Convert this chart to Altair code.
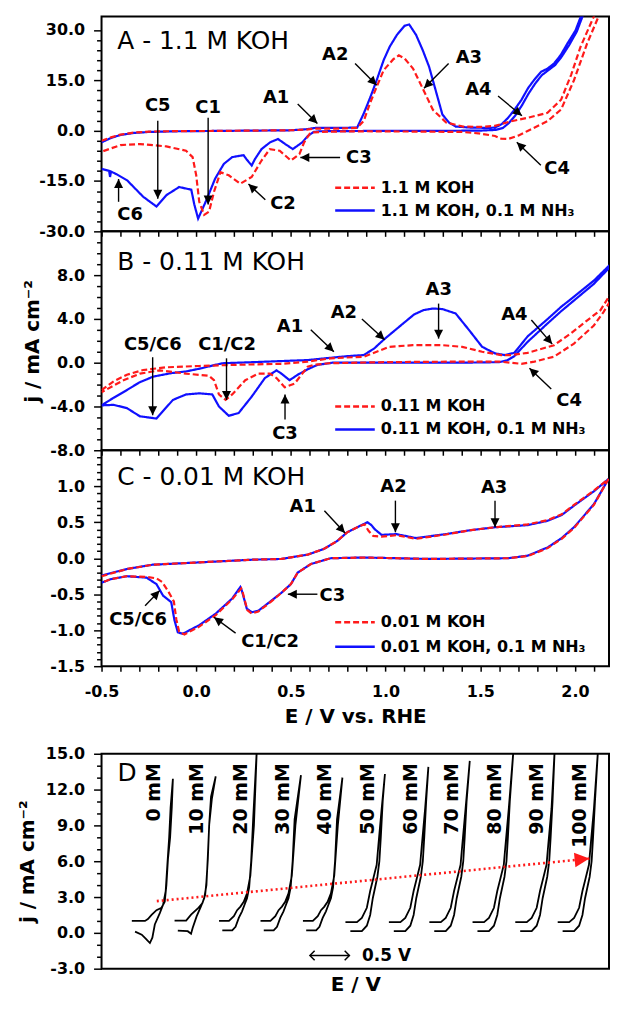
import math
import pandas as pd
import altair as alt

RED = "#ff1a1a"
BLUE = "#1010ff"
FONT = "DejaVu Sans"
MINUS = "\u2212"

E_MIN, E_MAX = -0.5, 2.18
W = 510
H_A, H_B, H_C, H_D = 216, 220, 217, 216
DOM_A = [-30, 34]
DOM_B = [-8, 12]
DOM_C = [-1.5, 1.5]
DOM_DX = [0, 6.4]
DOM_DY = [-3, 15]

# ---------------- Panel A : 1.1 M KOH ----------------
A_NAMES = ["1.1 M KOH", "1.1 M KOH, 0.1 M NH\u2083"]
A_KOH_E_fwd = [-0.50, -0.45, -0.40, -0.33, -0.25, -0.10, 0.10, 0.30, 0.50, 0.58, 0.63, 0.75, 0.85, 0.885, 0.918,
               0.953, 0.99, 1.04, 1.07, 1.10, 1.145, 1.20, 1.25, 1.32, 1.41, 1.50, 1.578, 1.65, 1.75, 1.855,
               1.927, 1.98, 2.03, 2.10, 2.14]
A_KOH_j_fwd = [-3.0, -2.0, -1.2, -0.6, -0.3, -0.15, -0.1, 0.0, 0.1, 0.3, 0.6, 0.6, 0.8, 2.9, 8.2,
               13.0, 18.0, 21.2, 22.4, 21.5, 18.5, 12.1, 6.2, 2.4, 1.2, 1.1, 1.4, 2.6, 3.8, 5.3,
               9.2, 16.6, 25.0, 34.0, 39.0]
A_KOH_E_rev = [2.16, 2.125, 2.064, 1.995, 1.927, 1.855, 1.75, 1.70, 1.647, 1.61, 1.578, 1.49, 1.40, 1.20, 0.90,
               0.70, 0.62, 0.60, 0.57, 0.545, 0.50, 0.441, 0.389, 0.345, 0.293, 0.233, 0.172, 0.128, 0.094, 0.068,
               0.042, 0.016, 0.0, -0.019, -0.054, -0.158, -0.297, -0.40, -0.50]
A_KOH_j_rev = [39.0, 34.0, 25.9, 15.0, 6.3, 2.8, -0.1, -1.5, -2.5, -2.4, -1.6, -0.8, -0.4, -0.3, -0.2,
               -0.3, -0.5, -0.9, -3.5, -7.0, -8.9, -6.0, -5.5, -8.9, -13.8, -15.8, -13.3, -12.4, -18.2, -24.1,
               -25.1, -21.2, -13.3, -7.9, -6.0, -4.7, -4.0, -4.3, -6.3]
A_NH3_E_fwd = [-0.50, -0.45, -0.40, -0.33, -0.25, -0.10, 0.10, 0.30, 0.50, 0.58, 0.63, 0.75, 0.85, 0.884, 0.92,
               0.953, 0.99, 1.022, 1.06, 1.10, 1.125, 1.161, 1.196, 1.23, 1.266, 1.30, 1.335, 1.37, 1.45, 1.55,
               1.578, 1.613, 1.647, 1.682, 1.717, 1.752, 1.786, 1.821, 1.856, 1.89, 1.925, 1.96, 2.003, 2.03, 2.06]
A_NH3_j_fwd = [-3.5, -2.2, -1.3, -0.7, -0.4, -0.2, -0.1, 0.0, 0.1, 0.4, 0.8, 0.8, 0.9, 5.0, 10.0,
               15.0, 21.0, 25.0, 28.5, 31.2, 31.6, 28.5, 24.0, 19.0, 11.7, 4.8, 2.4, 1.2, 0.9, 0.8,
               0.9, 1.9, 3.8, 6.3, 9.1, 12.6, 15.2, 17.5, 18.5, 20.0, 22.5, 25.9, 29.8, 33.8, 38.0]
A_NH3_E_rev = [2.07, 2.04, 2.01, 1.97, 1.93, 1.895, 1.86, 1.825, 1.79, 1.755, 1.72, 1.685, 1.65, 1.62, 1.58,
               1.50, 1.20, 0.90, 0.65, 0.62, 0.589, 0.56, 0.51, 0.47, 0.432, 0.39, 0.345, 0.31, 0.293, 0.265,
               0.25, 0.19, 0.146, 0.10, 0.05, 0.01, -0.01, -0.026, -0.09, -0.157, -0.21, -0.28, -0.365, -0.42,
               -0.45, -0.455, -0.46, -0.50]
A_NH3_j_rev = [38.0, 34.0, 29.5, 25.5, 22.0, 19.5, 18.0, 16.5, 14.0, 11.0, 7.5, 4.5, 2.2, 0.8, 0.2,
               0.0, -0.1, -0.1, -0.2, -0.4, -1.6, -3.5, -5.5, -4.0, -2.5, -3.5, -5.5, -8.5, -10.4, -8.5,
               -7.3, -7.9, -9.9, -14.3, -21.2, -26.2, -22.0, -17.6, -16.8, -19.2, -22.6, -19.7, -14.8, -13.0,
               -12.2, -13.8, -12.0, -11.4]

# ---------------- Panel B : 0.11 M KOH ----------------
B_NAMES = ["0.11 M KOH", "0.11 M KOH, 0.1 M NH\u2083"]
B_KOH_E_fwd = [-0.50, -0.436, -0.366, -0.28, -0.158, 0.016, 0.19, 0.45, 0.589, 0.71, 0.885, 0.953, 1.02, 1.144,
               1.30, 1.405, 1.51, 1.61, 1.665, 1.75, 1.89, 1.98, 2.06, 2.135, 2.20]
B_KOH_j_fwd = [-2.5, -1.7, -1.1, -0.67, -0.42, -0.3, -0.2, -0.1, 0.1, 0.4, 0.55, 1.0, 1.45, 1.6,
               1.6, 1.45, 1.0, 0.7, 0.7, 0.9, 1.6, 2.7, 3.8, 4.8, 6.6]
B_KOH_E_rev = [2.20, 2.15, 2.10, 1.995, 1.89, 1.786, 1.717, 1.66, 1.60, 1.40, 1.00, 0.70, 0.62, 0.589, 0.52,
               0.467, 0.424, 0.389, 0.328, 0.259, 0.19, 0.155, 0.12, 0.094, 0.068, -0.054, -0.193, -0.297,
               -0.384, -0.50]
B_KOH_j_rev = [6.0, 4.6, 3.4, 1.75, 0.55, 0.1, -0.1, 0.0, 0.1, 0.1, 0.05, -0.05, -0.2, -0.36, -1.9,
               -2.25, -1.4, -1.0, -1.0, -1.6, -2.9, -3.4, -2.9, -1.6, -1.2, -1.0, -0.7, -1.0, -1.6, -2.7]
B_NH3_E_fwd = [-0.50, -0.436, -0.366, -0.30, -0.227, -0.13, -0.054, 0.03, 0.10, 0.14, 0.30, 0.45, 0.589, 0.71,
               0.80, 0.885, 0.94, 0.99, 1.094, 1.15, 1.20, 1.25, 1.30, 1.37, 1.44, 1.51, 1.578, 1.63, 1.68,
               1.75, 1.85, 1.927, 2.00, 2.10, 2.20]
B_NH3_j_fwd = [-3.9, -3.2, -2.5, -1.8, -1.27, -0.95, -0.8, -0.5, -0.2, -0.05, 0.05, 0.15, 0.24, 0.45,
               0.6, 0.7, 1.3, 2.1, 3.6, 4.4, 4.8, 4.95, 4.9, 4.5, 3.0, 1.45, 0.85, 0.7, 0.9,
               2.4, 3.9, 5.1, 6.1, 7.5, 9.2]
B_NH3_E_rev = [2.20, 2.10, 1.927, 1.85, 1.75, 1.68, 1.64, 1.60, 1.40, 1.00, 0.72, 0.64, 0.589, 0.536, 0.493,
               0.45, 0.424, 0.363, 0.293, 0.224, 0.172, 0.12, 0.085, 0.016, -0.054, -0.123, -0.21, -0.297,
               -0.366, -0.436, -0.50]
B_NH3_j_rev = [9.0, 7.2, 4.7, 3.5, 1.9, 0.6, 0.2, 0.05, 0.0, 0.0, 0.0, -0.2, -0.6, -1.1, -1.6,
               -1.0, -0.7, -1.4, -3.1, -4.6, -4.85, -4.0, -2.9, -2.8, -2.9, -3.4, -5.1, -4.9,
               -4.15, -3.85, -3.9]

# ---------------- Panel C : 0.01 M KOH ----------------
C_NAMES = ["0.01 M KOH", "0.01 M KOH, 0.1 M NH\u2083"]
C_KOH_E_fwd = [-0.50, -0.366, -0.23, 0.0, 0.30, 0.45, 0.589, 0.675, 0.745, 0.797, 0.866, 0.89, 0.91, 0.935,
               0.979, 1.057, 1.161, 1.318, 1.45, 1.578, 1.75, 1.856, 1.93, 1.995, 2.10, 2.177]
C_KOH_j_fwd = [-0.25, -0.15, -0.09, -0.06, -0.02, -0.01, 0.05, 0.13, 0.24, 0.36, 0.45, 0.47, 0.38, 0.31,
               0.30, 0.32, 0.27, 0.33, 0.39, 0.43, 0.47, 0.53, 0.61, 0.74, 0.94, 1.1]
C_KOH_E_rev = [2.177, 2.10, 1.995, 1.93, 1.856, 1.75, 1.646, 1.23, 0.884, 0.71, 0.606, 0.536, 0.50, 0.45,
               0.397, 0.328, 0.293, 0.27, 0.245, 0.238, 0.19, 0.103, 0.016, -0.0625, -0.09, -0.105, -0.118,
               -0.15, -0.18, -0.21, -0.26, -0.366, -0.45, -0.50]
C_KOH_j_rev = [1.1, 0.74, 0.42, 0.27, 0.14, 0.03, 0.0, -0.01, 0.01, 0.0, -0.08, -0.2, -0.36, -0.48,
               -0.6, -0.74, -0.77, -0.72, -0.47, -0.42, -0.57, -0.79, -0.95, -1.06, -1.02, -0.85, -0.6,
               -0.45, -0.33, -0.28, -0.26, -0.25, -0.29, -0.34]
C_NH3_E_fwd = [-0.50, -0.366, -0.23, 0.0, 0.30, 0.45, 0.589, 0.675, 0.745, 0.797, 0.866, 0.904, 0.925, 0.944,
               0.979, 1.057, 1.161, 1.318, 1.45, 1.578, 1.75, 1.856, 1.93, 1.995, 2.10, 2.177]
C_NH3_j_fwd = [-0.24, -0.15, -0.09, -0.06, -0.02, -0.01, 0.05, 0.13, 0.24, 0.36, 0.45, 0.50, 0.46, 0.40,
               0.325, 0.335, 0.28, 0.335, 0.39, 0.43, 0.46, 0.52, 0.6, 0.73, 0.93, 1.1]
C_NH3_E_rev = [2.177, 2.10, 1.995, 1.93, 1.856, 1.75, 1.646, 1.23, 0.884, 0.71, 0.606, 0.536, 0.50, 0.45,
               0.397, 0.328, 0.293, 0.267, 0.241, 0.233, 0.19, 0.103, 0.016, -0.071, -0.097, -0.115, -0.132,
               -0.175, -0.21, -0.262, -0.366, -0.45, -0.50]
C_NH3_j_rev = [1.1, 0.75, 0.43, 0.28, 0.15, 0.035, 0.0, -0.01, 0.01, 0.0, -0.08, -0.2, -0.36, -0.48,
               -0.59, -0.73, -0.75, -0.70, -0.45, -0.40, -0.56, -0.77, -0.93, -1.05, -1.03, -0.86, -0.61,
               -0.52, -0.36, -0.27, -0.25, -0.29, -0.34]

# ---------------- Panel D : NH3 concentration series ----------------
D_LABELS = ["0 mM", "10 mM", "20 mM", "30 mM", "40 mM", "50 mM", "60 mM", "70 mM", "80 mM", "90 mM", "100 mM"]
D_ORIGIN = [0.382, 0.921, 1.482, 2.005, 2.540, 3.076, 3.624, 4.134, 4.679, 5.218, 5.753]
D_SHAPE = ["T0", "T1", "T2", "T2", "T2", "T3", "T3", "T3", "T3", "T3", "T3"]
D_TOP_REL = [0.518, 0.519, 0.477, 0.51, 0.498, 0.498, 0.498, 0.51, 0.518, 0.498, 0.51]
D_TOP_J = [12.9, 13.1, 15.5, 13.2, 13.0, 13.3, 13.9, 14.4, 15.5, 15.5, 15.5]
# sweep shapes: (E offset from curve start, j)
D_SWEEP_UP = {
    "T0": [(0.041, 0.1), (0.125, -0.15), (0.178, -0.5), (0.228, -0.85), (0.259, -0.4), (0.29, 0.7),
           (0.353, 1.66), (0.394, 2.35), (0.427, 3.5), (0.448, 5.7), (0.471, 8.0), (0.489, 10.5)],
    "T1": [(0.041, 0.19), (0.166, 0.14), (0.208, -0.08), (0.228, 0.41), (0.278, 1.38), (0.333, 2.21),
           (0.374, 2.9), (0.402, 4.0), (0.42, 6.5), (0.438, 9.2), (0.46, 11.4)],
    "T2": [(0.041, 0.2), (0.166, 0.2), (0.208, 0.5), (0.249, 1.25), (0.29, 1.8), (0.324, 2.4),
           (0.353, 2.9), (0.38, 3.8), (0.405, 6.0), (0.43, 9.5)],
    "T3": [(0.062, 0.14), (0.207, 0.14), (0.27, 0.6), (0.312, 1.5), (0.345, 2.9), (0.374, 3.8),
           (0.403, 4.7), (0.428, 6.0), (0.446, 8.0), (0.47, 11.0)],
}
D_SWEEP_DOWN = {
    "T0": [(0.504, 10.5), (0.483, 8.0), (0.456, 6.2), (0.436, 4.0), (0.415, 2.6), (0.374, 2.1),
           (0.311, 1.9), (0.249, 1.5), (0.203, 1.15), (0.166, 1.0), (0.0, 1.0)],
    "T1": [(0.47, 11.2), (0.436, 8.99), (0.42, 6.22), (0.402, 4.29), (0.386, 3.18), (0.352, 2.49),
           (0.29, 2.02), (0.208, 1.52), (0.146, 1.02), (0.0, 1.02)],
    "T2": [(0.44, 9.0), (0.395, 4.8), (0.353, 3.3), (0.311, 2.6), (0.27, 2.2), (0.228, 1.9),
           (0.187, 1.4), (0.125, 1.0), (0.0, 1.0)],
    "T3": [(0.457, 10.4), (0.415, 7.3), (0.394, 5.7), (0.353, 4.6), (0.312, 3.5), (0.27, 2.1),
           (0.207, 1.25), (0.145, 0.9), (0.0, 0.9)],
}

# ---------------- annotations (label, text E, text j, arrow start E, j, arrow tip E, j) ----------------
A_ANN = [("A1", 0.422, 9.7, 0.536, 7.9, 0.64, 2.1),
         ("A2", 0.734, 22.4, 0.839, 20.0, 0.953, 13.5),
         ("A3", 1.44, 21.5, 1.333, 20.0, 1.203, 12.6),
         ("A4", 1.49, 12.0, 1.594, 10.3, 1.72, 4.4),
         ("C4", 1.906, -11.5, 1.82, -10.3, 1.693, -3.5),
         ("C3", 0.859, -8.2, 0.76, -8.0, 0.55, -8.0),
         ("C2", 0.458, -21.8, 0.365, -20.6, 0.276, -15.9),
         ("C1", 0.063, 6.8, 0.063, 3.8, 0.063, -22.0),
         ("C5", -0.203, 7.3, -0.203, 2.9, -0.203, -20.3),
         ("C6", -0.349, -25.0, -0.41, -21.2, -0.41, -14.4)]
B_ANN = [("C5/C6", -0.229, 1.6, -0.23, 0.5, -0.23, -4.8),
         ("C1/C2", 0.163, 1.6, 0.16, 0.4, 0.16, -3.4),
         ("C3", 0.469, -6.5, 0.469, -5.2, 0.469, -2.9),
         ("A1", 0.495, 3.3, 0.605, 3.0, 0.727, 1.0),
         ("A2", 0.78, 4.5, 0.875, 4.0, 0.995, 2.1),
         ("A3", 1.281, 6.6, 1.28, 5.4, 1.28, 2.2),
         ("A4", 1.68, 4.4, 1.77, 3.9, 1.88, 1.7),
         ("C4", 1.969, -3.5, 1.875, -2.4, 1.76, -0.5)]
C_ANN = [("A1", 0.5625, 0.71, 0.677, 0.66, 0.786, 0.35),
         ("A2", 1.042, 0.99, 1.052, 0.8, 1.052, 0.36),
         ("A3", 1.573, 0.98, 1.578, 0.8, 1.578, 0.43),
         ("C3", 0.719, -0.52, 0.64, -0.5, 0.484, -0.5),
         ("C5/C6", -0.307, -0.86, -0.27, -0.66, -0.193, -0.45),
         ("C1/C2", 0.39, -1.17, 0.208, -1.04, 0.094, -0.82)]
PANEL_TITLES = {"A": ("A - 1.1 M KOH", -0.417, 26.6), "B": ("B - 0.11 M KOH", -0.417, 9.2),
                "C": ("C - 0.01 M KOH", -0.417, 1.13)}
# legend swatch rows (line start E, line end E, j of each row)
LEG_X = (0.734, 0.943)
A_LEG_J = [-17.0, -23.8]
B_LEG_J = [-4.0, -6.1]
C_LEG_J = [-0.89, -1.23]

ARROW = "M0,0L-0.9,1.8L0.9,1.8Z"
CHEVRON = "M-1,-1L0,0L-1,1"


def head_angle(sx, sy, ex, ey, ppx, ppy):
    dx = (ex - sx) * ppx
    dy = -(ey - sy) * ppy
    return math.degrees(math.atan2(dx, -dy)) % 360


def cv_frame(Ef, jf, Er, jr, name):
    E = list(Ef) + list(Er)
    j = list(jf) + list(jr)
    return pd.DataFrame({"E": E, "j": j, "series": name, "idx": list(range(len(E)))})


def fmt_expr(test):
    return f"{test} ? replace(format(datum.value, '.1f'), '{MINUS}', '-') : ''"


def y_axis(values, test, title=None, title_pad=8):
    kw = dict(values=values, labelExpr=fmt_expr(test),
              tickSize={"condition": {"test": test, "value": 8}, "value": 5},
              labelOverlap=False, labelPadding=9, grid=False, domain=False,
              tickWidth=1.5, tickColor="black")
    if title:
        kw.update(title=title, titlePadding=title_pad)
    else:
        kw["title"] = None
    return alt.Axis(**kw)


X_TICKS = [round(-0.5 + 0.1 * i, 2) for i in range(27)]
X_TEST = "abs(datum.value*2 - round(datum.value*2)) < 0.01"


def x_axis(show):
    if show:
        return alt.Axis(values=X_TICKS, labelExpr=fmt_expr(X_TEST), labelFlush=False, labelOverlap=False,
                        tickSize=5, tickWidth=1.5, tickColor="black", labelPadding=12, grid=False,
                        domain=False, title="E / V vs. RHE", titlePadding=8)
    return alt.Axis(values=X_TICKS, labels=False, tickSize=5, tickWidth=1.5, tickColor="black",
                    grid=False, domain=False, title=None)


def cv_panel(key, red_df, blue_df, names, ydom, height, ann, leg_j, yax, xax):
    xs = alt.Scale(domain=[E_MIN, E_MAX], nice=False, zero=False)
    ys = alt.Scale(domain=ydom, nice=False, zero=False)
    cs = alt.Scale(domain=names, range=[RED, BLUE])
    ds = alt.Scale(domain=names, range=[[6, 3], [1, 0]])

    def X(f):
        return alt.X(f"{f}:Q", scale=xs, axis=xax)

    def Y(f):
        return alt.Y(f"{f}:Q", scale=ys, axis=yax)

    col = alt.Color("series:N", scale=cs, legend=None)
    dash = alt.StrokeDash("series:N", scale=ds, legend=None)
    blue = alt.Chart(blue_df).mark_line(clip=True, strokeWidth=2.2).encode(
        x=X("E"), y=Y("j"), order="idx:Q", color=col, strokeDash=dash)
    red = alt.Chart(red_df).mark_line(clip=True, strokeWidth=2.2).encode(
        x=X("E"), y=Y("j"), order="idx:Q", color=col, strokeDash=dash)

    ppx = W / (E_MAX - E_MIN)
    ppy = height / (ydom[1] - ydom[0])
    adf = pd.DataFrame(ann, columns=["label", "tx", "ty", "sx", "sy", "ex", "ey"])
    adf["angle"] = [head_angle(r.sx, r.sy, r.ex, r.ey, ppx, ppy) for r in adf.itertuples()]
    shafts = alt.Chart(adf).mark_rule(color="black", strokeWidth=1.4).encode(
        x=X("sx"), y=Y("sy"), x2="ex:Q", y2="ey:Q")
    heads = alt.Chart(adf).mark_point(shape=ARROW, filled=True, color="black", size=100, opacity=1,
                                      strokeWidth=0).encode(
        x=X("ex"), y=Y("ey"), angle=alt.Angle("angle:Q", scale=None))
    labels = alt.Chart(adf).mark_text(font=FONT, fontSize=18, fontWeight="bold", color="black").encode(
        x=X("tx"), y=Y("ty"), text="label:N")

    t, tx, ty = PANEL_TITLES[key]
    tdf = pd.DataFrame({"t": [t], "x": [tx], "y": [ty]})
    ttl = alt.Chart(tdf).mark_text(font=FONT, fontSize=25, align="left", baseline="middle",
                                   color="black").encode(x=X("x"), y=Y("y"), text="t:N")

    ldf = pd.DataFrame({"series": names, "x1": [LEG_X[0]] * 2, "x2": [LEG_X[1]] * 2, "y": leg_j})
    leg_rules = alt.Chart(ldf).mark_rule(strokeWidth=2.5).encode(
        x=X("x1"), x2="x2:Q", y=Y("y"), color=col, strokeDash=dash)
    leg_text = alt.Chart(ldf).mark_text(font=FONT, fontSize=16, fontWeight="bold", align="left",
                                        baseline="middle", dx=6, color="black").encode(
        x=X("x2"), y=Y("y"), text="series:N")

    return alt.layer(blue, red, shafts, heads, labels, ttl, leg_rules, leg_text).properties(
        width=W, height=height)


A_TEST = "abs(datum.value % 15) < 0.01"
B_TEST = "abs(datum.value % 4) < 0.01 && datum.value < 10"
C_TEST = "abs(datum.value*2 - round(datum.value*2)) < 0.01 && datum.value < 1.4"
D_TEST = "abs(datum.value % 3) < 0.01"
J_TITLE = "j / mA cm\u207b\u00b2"

panel_a = cv_panel("A", cv_frame(A_KOH_E_fwd, A_KOH_j_fwd, A_KOH_E_rev, A_KOH_j_rev, A_NAMES[0]),
                   cv_frame(A_NH3_E_fwd, A_NH3_j_fwd, A_NH3_E_rev, A_NH3_j_rev, A_NAMES[1]),
                   A_NAMES, DOM_A, H_A, A_ANN, A_LEG_J,
                   y_axis(list(range(-30, 31, 3)), A_TEST), x_axis(False))
panel_b = cv_panel("B", cv_frame(B_KOH_E_fwd, B_KOH_j_fwd, B_KOH_E_rev, B_KOH_j_rev, B_NAMES[0]),
                   cv_frame(B_NH3_E_fwd, B_NH3_j_fwd, B_NH3_E_rev, B_NH3_j_rev, B_NAMES[1]),
                   B_NAMES, DOM_B, H_B, B_ANN, B_LEG_J,
                   y_axis(list(range(-8, 12)), B_TEST, J_TITLE, 7), x_axis(False))
panel_c = cv_panel("C", cv_frame(C_KOH_E_fwd, C_KOH_j_fwd, C_KOH_E_rev, C_KOH_j_rev, C_NAMES[0]),
                   cv_frame(C_NH3_E_fwd, C_NH3_j_fwd, C_NH3_E_rev, C_NH3_j_rev, C_NAMES[1]),
                   C_NAMES, DOM_C, H_C, C_ANN, C_LEG_J,
                   y_axis([round(-1.5 + 0.1 * i, 2) for i in range(30)], C_TEST), x_axis(True))

# ---- panel D ----
rows = []
for lab, o, shp, tr, tj in zip(D_LABELS, D_ORIGIN, D_SHAPE, D_TOP_REL, D_TOP_J):
    pts = D_SWEEP_UP[shp] + [(tr, tj)] + D_SWEEP_DOWN[shp]
    for i, (dx, jv) in enumerate(pts):
        rows.append({"curve": lab, "idx": i, "x": o + dx, "j": jv})
d_df = pd.DataFrame(rows)
d_lab = pd.DataFrame({"label": D_LABELS, "x": [o + 0.28 for o in D_ORIGIN], "y": [14.2] * len(D_LABELS)})

D_TREND = (0.697, 2.66, 6.152, 6.22)     # red dotted trend arrow: start x, j, tip x, j
D_BAR = (2.628, 3.126, -1.9)             # 0.5 V scale bar: x1, x2, j

dxs = alt.Scale(domain=DOM_DX, nice=False, zero=False)
dys = alt.Scale(domain=DOM_DY, nice=False, zero=False)
d_xax = alt.Axis(labels=False, ticks=False, domain=False, grid=False, title="E / V", titlePadding=6)
d_yax = y_axis(list(range(-3, 16)), D_TEST, J_TITLE, 8)


def DX(f):
    return alt.X(f"{f}:Q", scale=dxs, axis=d_xax)


def DY(f):
    return alt.Y(f"{f}:Q", scale=dys, axis=d_yax)


d_curves = alt.Chart(d_df).mark_line(clip=True, color="black", strokeWidth=1.8).encode(
    x=DX("x"), y=DY("j"), detail="curve:N", order="idx:Q")
d_labels = alt.Chart(d_lab).mark_text(font=FONT, fontSize=19, fontWeight="bold", angle=270, align="right",
                                      baseline="middle", color="black").encode(
    x=DX("x"), y=DY("y"), text="label:N")
ppx_d = W / (DOM_DX[1] - DOM_DX[0])
ppy_d = H_D / (DOM_DY[1] - DOM_DY[0])
tr_df = pd.DataFrame({"sx": [D_TREND[0]], "sy": [D_TREND[1]], "ex": [D_TREND[2]], "ey": [D_TREND[3]],
                      "angle": [head_angle(*D_TREND, ppx_d, ppy_d)]})
d_trend = alt.Chart(tr_df).mark_rule(color=RED, strokeWidth=2.6, strokeDash=[2, 3]).encode(
    x=DX("sx"), y=DY("sy"), x2="ex:Q", y2="ey:Q")
d_trend_head = alt.Chart(tr_df).mark_point(shape=ARROW, filled=True, color=RED, size=270, opacity=1,
                                           strokeWidth=0).encode(
    x=DX("ex"), y=DY("ey"), angle=alt.Angle("angle:Q", scale=None))
bar_df = pd.DataFrame({"x1": [D_BAR[0]], "x2": [D_BAR[1]], "y": [D_BAR[2]]})
d_bar = alt.Chart(bar_df).mark_rule(color="black", strokeWidth=1.5).encode(x=DX("x1"), x2="x2:Q", y=DY("y"))
chev_df = pd.DataFrame({"x": [D_BAR[0], D_BAR[1]], "y": [D_BAR[2]] * 2, "angle": [180, 0]})
d_chev = alt.Chart(chev_df).mark_point(shape=CHEVRON, filled=False, color="black", size=90, opacity=1,
                                       strokeWidth=1.5).encode(
    x=DX("x"), y=DY("y"), angle=alt.Angle("angle:Q", scale=None))
bar_txt = pd.DataFrame({"t": ["0.5 V"], "x": [D_BAR[1] + 0.16], "y": [D_BAR[2]]})
d_bar_txt = alt.Chart(bar_txt).mark_text(font=FONT, fontSize=17, fontWeight="bold", align="left",
                                         baseline="middle", color="black").encode(
    x=DX("x"), y=DY("y"), text="t:N")
d_title_df = pd.DataFrame({"t": ["D"], "x": [0.2], "y": [13.4]})
d_title = alt.Chart(d_title_df).mark_text(font=FONT, fontSize=25, align="left", baseline="middle",
                                          color="black").encode(x=DX("x"), y=DY("y"), text="t:N")

panel_d = alt.layer(d_curves, d_trend, d_trend_head, d_labels, d_bar, d_chev, d_bar_txt, d_title).properties(
    width=W, height=H_D)

top = alt.vconcat(panel_a, panel_b, panel_c, spacing=0, bounds="flush")
chart = alt.vconcat(top, panel_d, spacing=17).properties(
    padding={"left": 8, "top": 5, "right": 0, "bottom": 0}, background="white"
).configure_view(stroke="black", strokeWidth=2).configure_axis(
    labelFont=FONT, labelFontWeight="bold", labelFontSize=16, labelColor="black",
    titleFont=FONT, titleFontWeight="bold", titleFontSize=20, titleColor="black")

chart.save("out.html", embed_options={"renderer": "svg", "actions": False})
